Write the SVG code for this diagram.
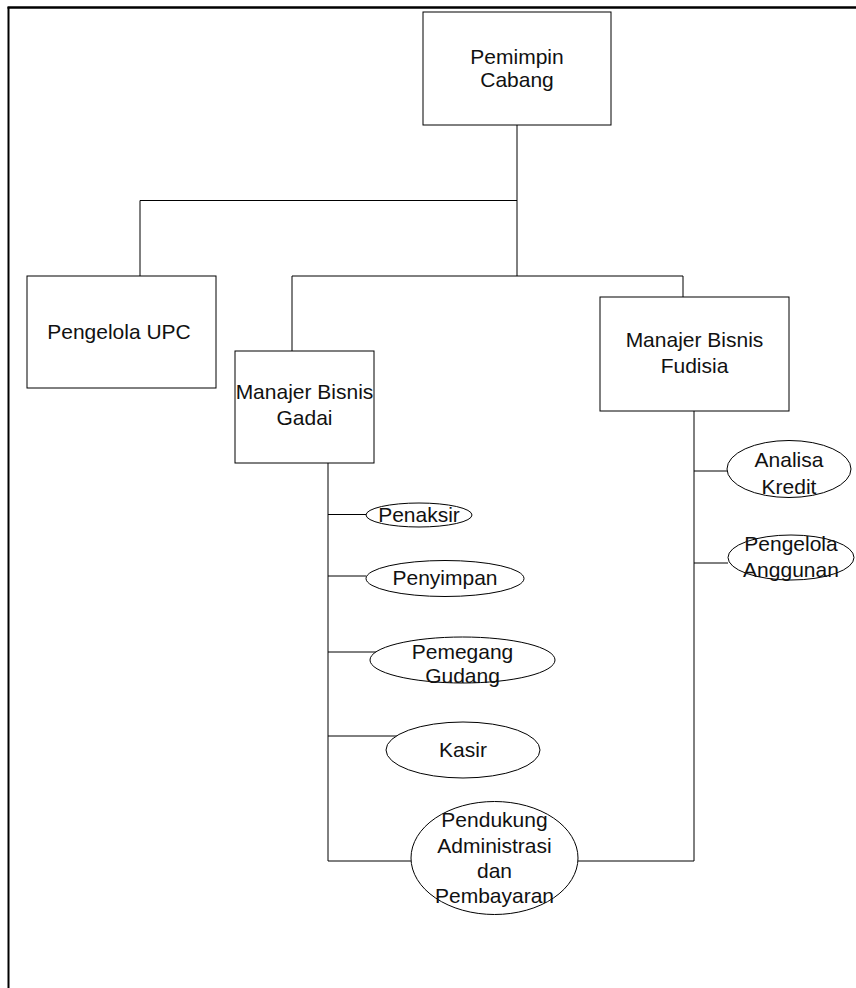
<svg xmlns="http://www.w3.org/2000/svg" width="856" height="988" viewBox="0 0 856 988">
<style>
.box{fill:#fff;stroke:#000;stroke-width:1}
.el{fill:#fff;stroke:#000;stroke-width:1}
.ln{fill:none;stroke:#000;stroke-width:1}
.frame{fill:none;stroke:#000}
text{font-family:"Liberation Sans",Arial,Helvetica,sans-serif;font-size:21px;fill:#111;text-anchor:middle}
</style>
<rect x="0" y="0" width="856" height="988" fill="#fff"/>
<g id="frame">
<line class="frame" x1="8.5" y1="7" x2="8.5" y2="988" stroke-width="2"/>
<line class="frame" x1="7.5" y1="7.5" x2="856" y2="7.5" stroke-width="2.5"/>
</g>
<g id="connectors">
<path class="ln" d="M517 125 V276"/>
<path class="ln" d="M140 276 V200.5 H517"/>
<path class="ln" d="M292 351 V276 H683 V297"/>
<path class="ln" d="M328 463 V861 H411"/>
<path class="ln" d="M578 861 H694 V411"/>
<path class="ln" d="M328 514.5 H366"/>
<path class="ln" d="M328 576 H366"/>
<path class="ln" d="M328 652 H380"/>
<path class="ln" d="M328 736 H397"/>
<path class="ln" d="M694 471 H727"/>
<path class="ln" d="M694 563 H728"/>
</g>
<g id="pemimpin-cabang">
<rect class="box" x="423" y="12" width="188" height="113"/>
<text x="517" y="64">Pemimpin</text>
<text x="517" y="87">Cabang</text>
</g>
<g id="pengelola-upc">
<rect class="box" x="27" y="276" width="189" height="112"/>
<text x="119" y="339">Pengelola UPC</text>
</g>
<g id="manajer-bisnis-gadai">
<rect class="box" x="235" y="351" width="139" height="112"/>
<text x="304.5" y="399">Manajer Bisnis</text>
<text x="304.5" y="425">Gadai</text>
</g>
<g id="manajer-bisnis-fudisia">
<rect class="box" x="600" y="297" width="189" height="114"/>
<text x="694.5" y="347">Manajer Bisnis</text>
<text x="694.5" y="373">Fudisia</text>
</g>
<g id="penaksir">
<ellipse class="el" cx="419" cy="515" rx="53" ry="12"/>
<text x="419" y="522">Penaksir</text>
</g>
<g id="penyimpan">
<ellipse class="el" cx="445" cy="578.5" rx="79" ry="18"/>
<text x="445" y="585">Penyimpan</text>
</g>
<g id="pemegang-gudang">
<ellipse class="el" cx="462.5" cy="660" rx="92.5" ry="23"/>
<text x="462.5" y="659">Pemegang</text>
<text x="462.5" y="683">Gudang</text>
</g>
<g id="kasir">
<ellipse class="el" cx="463" cy="750" rx="77" ry="28"/>
<text x="463" y="757">Kasir</text>
</g>
<g id="pendukung-administrasi">
<ellipse class="el" cx="494.5" cy="858" rx="83.5" ry="56.5"/>
<text x="494.5" y="827">Pendukung</text>
<text x="494.5" y="853">Administrasi</text>
<text x="494.5" y="878">dan</text>
<text x="494.5" y="903">Pembayaran</text>
</g>
<g id="analisa-kredit">
<ellipse class="el" cx="789" cy="469" rx="62" ry="28.5"/>
<text x="789" y="467">Analisa</text>
<text x="789" y="494">Kredit</text>
</g>
<g id="pengelola-anggunan">
<ellipse class="el" cx="791" cy="557.5" rx="63" ry="22.5"/>
<text x="791" y="551">Pengelola</text>
<text x="791" y="577">Anggunan</text>
</g>
</svg>
